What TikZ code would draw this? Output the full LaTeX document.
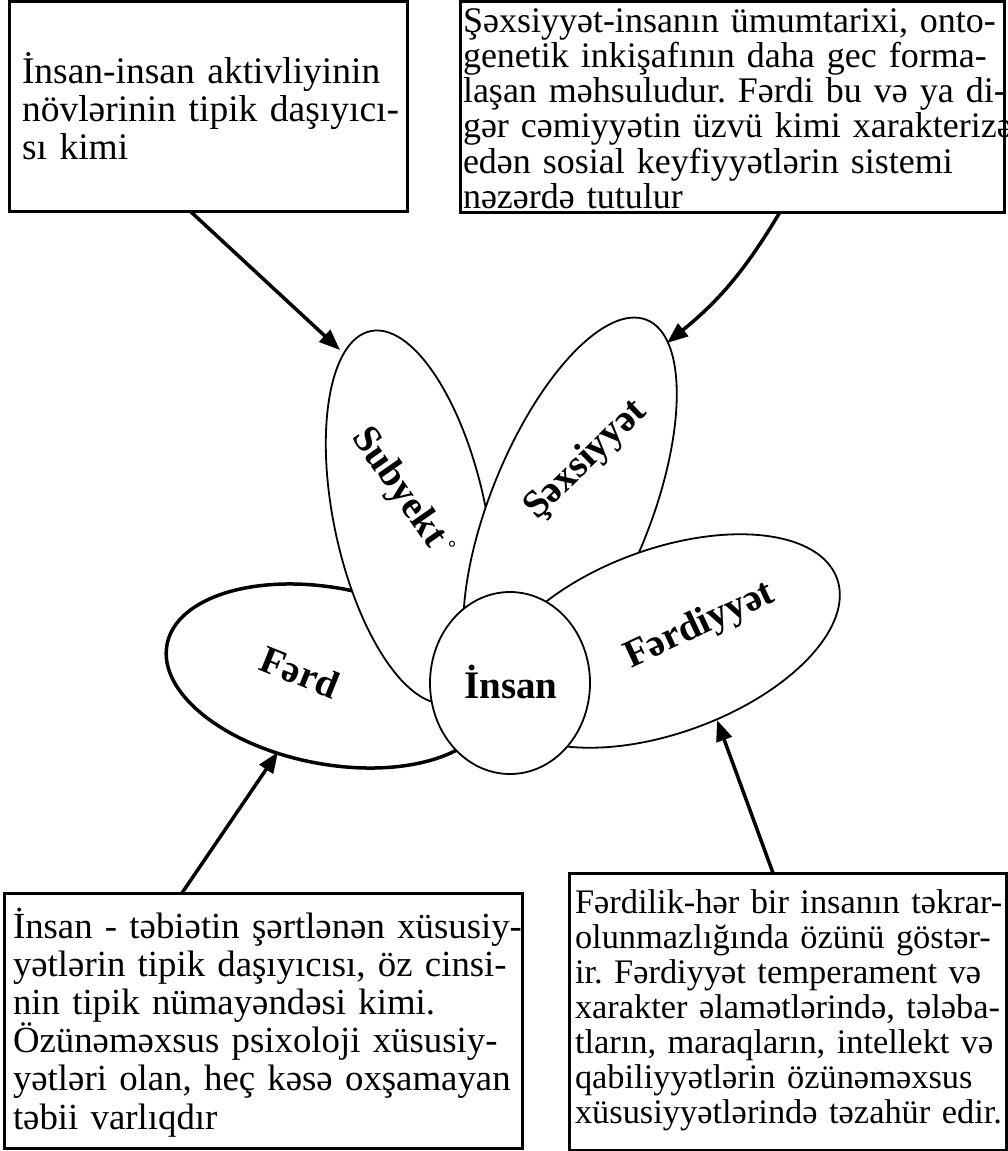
\documentclass[tikz,border=0pt]{standalone}
\usepackage{fontspec}
\setmainfont{Liberation Serif}
\usetikzlibrary{shapes.geometric,arrows.meta,calc}
\begin{document}
\frenchspacing
\begin{tikzpicture}[x=1pt,y=1pt,
  box/.style={draw, line width=3pt, rectangle, inner sep=0pt, outer sep=0pt, fill=white},
  boxtext/.style={anchor=base west, inner sep=0pt, outer sep=0pt, align=left, text width=600pt},
  petal/.style={draw, ellipse, fill=white, line width=1.8pt, inner sep=0pt, outer sep=0pt},
  lbl/.style={font=\fontsize{39}{40}\selectfont\bfseries, inner sep=0pt},
  arr/.style={line width=3.5pt, -{Triangle[length=21pt,width=16pt]}}
]
\useasboundingbox (0,0) rectangle (1008,-1151);

% text boxes
\node[box, minimum width=398pt, minimum height=210pt] (b1) at (208,-106) {};
\node[box, minimum width=544pt, minimum height=211pt] (b2) at (732,-106.5) {};
\node[box, minimum width=518pt, minimum height=255pt] (b3) at (263,-1020.5) {};
\node[box, minimum width=437pt, minimum height=277pt] (b4) at (787.5,-1011.5) {};

\node[boxtext, font=\fontsize{37.5}{38}\selectfont] (b1t) at (22,-83)
  {İnsan-insan aktivliyinin\\növlərinin tipik daşıyıcı-\\sı kimi};
\node[boxtext, font=\fontsize{36}{35.3}\selectfont] (b2t) at (463,-32)
  {Şəxsiyyət-insanın ümumtarixi, onto-\\genetik inkişafının daha gec forma-\\laşan məhsuludur. Fərdi bu və ya di-\\gər cəmiyyətin üzvü kimi xarakterizə\\edən sosial keyfiyyətlərin sistemi\\nəzərdə tutulur};
\node[boxtext, font=\fontsize{36.8}{38.2}\selectfont] (b3t) at (13,-938)
  {İnsan - təbiətin şərtlənən xüsusiy-\\yətlərin tipik daşıyıcısı, öz cinsi-\\nin tipik nümayəndəsi kimi.\\Özünəməxsus psixoloji xüsusiy-\\yətləri olan, heç kəsə oxşamayan\\təbii varlıqdır};
\node[boxtext, font=\fontsize{34.4}{35}\selectfont] (b4t) at (575,-913)
  {Fərdilik-hər bir insanın təkrar-\\olunmazlığında özünü göstər-\\ir. Fərdiyyət temperament və\\xarakter əlamətlərində, tələba-\\tların, maraqların, intellekt və\\qabiliyyətlərin özünəməxsus\\xüsusiyyətlərində təzahür edir.};

% petals
\node[petal, line width=3.5pt, minimum width=332pt, minimum height=176pt, rotate=-11] (ferd) at (330,-676) {};
\node[petal, minimum width=380pt, minimum height=152pt, rotate=-78] (subj) at (410,-517) {};
\node[petal, minimum width=410pt, minimum height=160pt, rotate=68] (sexs) at (570,-510) {};
\node[petal, minimum width=366pt, minimum height=184pt, rotate=20] (ferdiy) at (665,-641) {};
\node[petal, minimum width=160pt, minimum height=182pt] (insan) at (510,-683) {};

% labels
\node[lbl, rotate=-22] (ferdl) at (300,-672) {Fərd};
\node[lbl, rotate=-55] (subjl) at (398,-488) {Subyekt};
\node[font=\fontsize{20}{20}\selectfont\bfseries, inner sep=0pt] (subjdeg) at (452,-548) {°};
\node[lbl, rotate=44] (sexsl) at (586,-460) {Şəxsiyyət};
\node[lbl, rotate=25] (ferdiyl) at (700,-626) {Fərdiyyət};
\node[lbl, anchor=base] (insanl) at (511,-698) {İnsan};

% arrows
\coordinate (t1) at (340,-350);
\coordinate (t2) at (667,-343);
\coordinate (t3) at (278,-752);
\coordinate (t4) at (717,-720);
\draw[arr] ([xshift=181pt]b1.south west) -- (t1);
\draw[arr] ([xshift=320pt]b2.south west) to[bend left=10] (t2);
\draw[arr] ([xshift=178pt]b3.north west) -- (t3);
\draw[arr] ([xshift=204pt]b4.north west) -- (t4);
\end{tikzpicture}
\end{document}
